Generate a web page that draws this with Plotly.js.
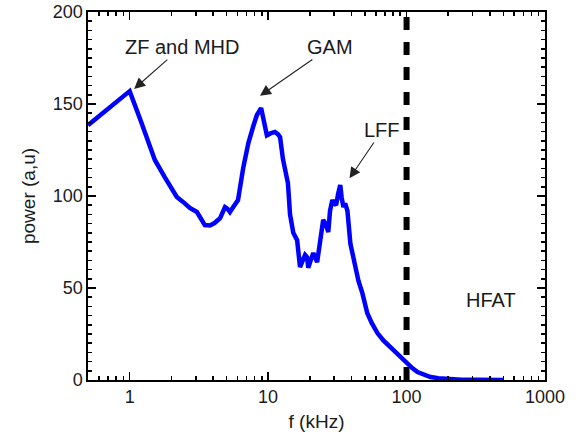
<!DOCTYPE html>
<html>
<head>
<meta charset="utf-8">
<script src="https://cdn.plot.ly/plotly-3.0.1.min.js"></script>
<style>html,body{margin:0;padding:0;background:#fff;}#chart{width:578px;height:446px;}</style>
</head>
<body>
<div id="chart"></div>
<script>
// spectrum data (f in kHz, power in a.u.)
const freq = [0.5, 1.0, 1.2, 1.52, 1.8, 2.19, 2.5, 2.72, 3.06, 3.3, 3.49, 3.8, 4.1, 4.5, 4.88, 5.1, 5.3, 5.6, 6.06, 6.6, 7.2, 7.78, 8.3, 8.9, 9.3, 9.8, 10.4, 11.2, 11.8, 12.2, 12.8, 13.3, 13.9, 14.4, 15.2, 16.2, 16.6, 17.0, 17.8, 18.5, 19.1, 19.5, 20.3, 21.2, 22.6, 23.5, 25, 26, 27.2, 28, 29.1, 30, 31, 32, 33.2, 34, 35, 36, 37.4, 39.3, 41, 42.7, 44.9, 47.9, 52, 56, 61.6, 68, 76, 83, 90, 101, 110, 120, 135, 149, 170, 198, 250, 320, 400, 505];
const power = [138.5, 157, 141, 119.6, 110, 99.5, 96, 93.5, 91.3, 87.5, 84.2, 84, 85.3, 88, 94, 93, 91.3, 94, 97.8, 115, 128.8, 137.5, 144, 147.8, 140, 133, 134, 134.8, 133.5, 132, 120, 112.5, 107, 90, 80, 76, 66, 61.4, 65, 68, 66.8, 61, 65, 69, 64, 72, 87, 85, 80.4, 92, 97.8, 96, 95, 101, 106, 99, 94, 96, 92, 74, 67, 62, 54, 47.3, 36.4, 31, 25.5, 21.5, 18, 15, 12.5, 9.2, 6.5, 4.3, 2.8, 1.6, 1.0, 0.5, 0.2, 0.1, 0.05, 0];

const cutoffFreq = 100;  // HFAT boundary

const xRange = [0.5, 1000];
const yRange = [0, 200];
const yTickStep = 50;
const yMinorStep = 5;

// annotation labels
const labels = ['ZF and MHD', 'GAM', 'LFF'];
const labelX = [1.05, 8.5, 38];
const labelY = [157.5, 153.8, 108.7];
const labelAX = [49, 72, 34];
const labelAY = [-43, -50, -50];
const regionText = 'HFAT';
const regionX = 406;
const regionY = 43.5;

const font = 'Liberation Sans, Arial, Helvetica, sans-serif';
const txt = '#1a1a1a';

const annotations = labels.map((t, i) => ({
  text: t, x: Math.log10(labelX[i]), y: labelY[i], xref: 'x', yref: 'y',
  ax: labelAX[i], ay: labelAY[i], showarrow: true,
  arrowhead: 2, arrowsize: 2, arrowwidth: 1.1, arrowcolor: '#222',
  font: {family: font, size: 20, color: txt}, standoff: 2
}));
annotations.push({
  text: regionText, x: Math.log10(regionX), y: regionY, xref: 'x', yref: 'y',
  showarrow: false, font: {family: font, size: 20, color: txt}
});

const trace = {
  x: freq, y: power, type: 'scatter', mode: 'lines',
  line: {color: '#0000ff', width: 4.5}, hoverinfo: 'skip'
};

const layout = {
  width: 578, height: 446,
  margin: {l: 88, r: 33, t: 12, b: 66},
  paper_bgcolor: '#fff', plot_bgcolor: '#fff',
  showlegend: false,
  font: {family: font, color: txt},
  xaxis: {
    type: 'log', range: xRange.map(Math.log10),
    tickmode: 'linear', tick0: 0, dtick: 1, exponentformat: 'none',
    ticks: 'inside', ticklen: 8, tickwidth: 1.6, tickcolor: '#000',
    minor: {dtick: 'D1', ticks: 'inside', ticklen: 4, tickwidth: 1.6, tickcolor: '#000', showgrid: false},
    showline: true, linecolor: '#000', linewidth: 1.6, mirror: 'ticks',
    showgrid: false, zeroline: false,
    tickfont: {family: font, size: 18, color: txt},
    title: {text: 'f (kHz)', font: {family: font, size: 19, color: txt}, standoff: 8}
  },
  yaxis: {
    range: yRange, tickmode: 'linear', tick0: 0, dtick: yTickStep,
    ticks: 'inside', ticklen: 8, tickwidth: 1.6, tickcolor: '#000',
    minor: {dtick: yMinorStep, ticks: 'inside', ticklen: 4, tickwidth: 1.6, tickcolor: '#000', showgrid: false},
    showline: true, linecolor: '#000', linewidth: 1.6, mirror: 'ticks',
    showgrid: false, zeroline: false,
    tickfont: {family: font, size: 18, color: txt},
    title: {text: 'power (a,u)', font: {family: font, size: 19, color: txt}, standoff: 12}
  },
  shapes: [{
    type: 'line', xref: 'x', yref: 'paper',
    x0: cutoffFreq, x1: cutoffFreq, y0: 0, y1: 1,
    line: {color: '#000', width: 6, dash: '13px,12px'}, layer: 'above'
  }],
  annotations: annotations
};

Plotly.newPlot('chart', [trace], layout, {displayModeBar: false, staticPlot: true});
</script>
</body>
</html>
